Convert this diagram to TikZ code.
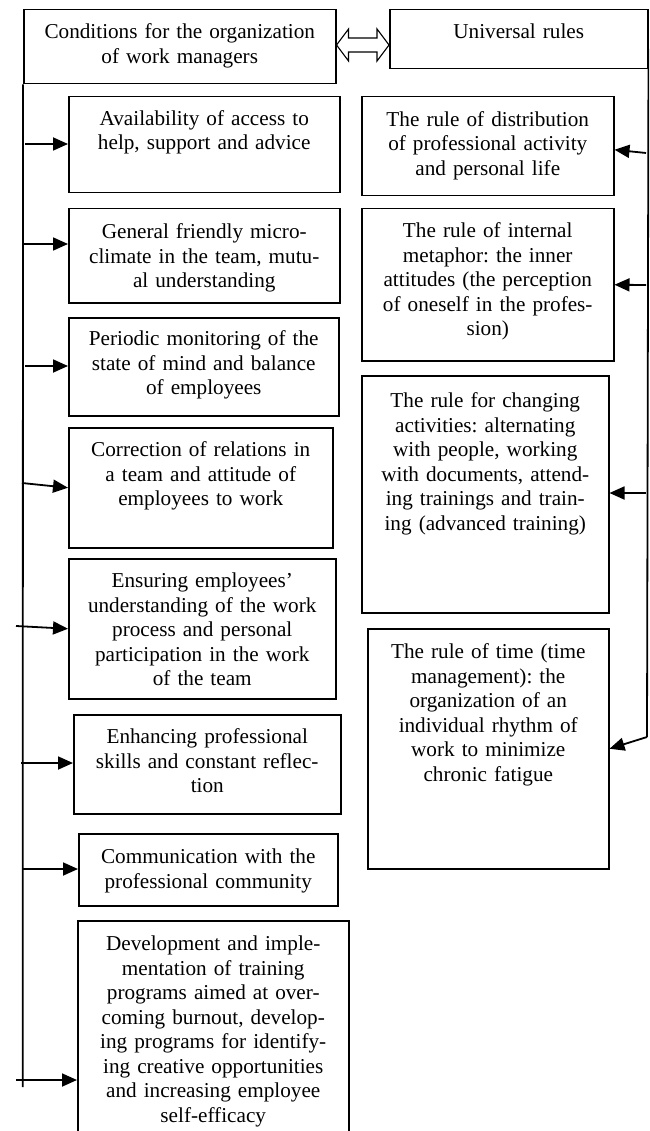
\documentclass[tikz,border=0pt]{standalone}
\usepackage{fontspec}
\setmainfont{Liberation Serif}
\usetikzlibrary{arrows.meta,calc}
\newcommand\boxfont{\fontsize{21.2}{24.5}\selectfont\frenchspacing}
\begin{document}
\begin{tikzpicture}[x=1pt,y=-1pt,
  box/.style={draw, line width=1.5pt, anchor=north west, inner xsep=2pt,
              inner ysep=0pt, align=center, font=\boxfont},
  bus/.style={line width=1.8pt},
  conn/.style={line width=1.8pt, -{Triangle[length=15pt,width=13pt]}},
  link/.style={draw, line width=1.1pt, fill=white, line join=miter}]
\fill[white] (0,0) rectangle (649,1131);
\clip (0,0) rectangle (649,1131);

% headings
\node[box, text width=308pt, text height=29pt, text depth=45pt] (cond) at (23,9)
  {Conditions for the organization\\of work managers};
\node[box, text width=254pt, text height=29pt, text depth=30pt] (univ) at (389,9)
  {Universal rules};

% two-way link between the headings
\coordinate (dl) at (cond.east |- 0,45);
\coordinate (dr) at (univ.west |- 0,45);
\path[link] (dl) -- ($(dl)+(12,-16)$) -- ($(dl)+(12,-7)$) -- ($(dr)+(-12,-7)$)
  -- ($(dr)+(-12,-16)$) -- (dr) -- ($(dr)+(-12,16)$) -- ($(dr)+(-12,7)$)
  -- ($(dl)+(12,7)$) -- ($(dl)+(12,16)$) -- cycle;

% conditions (left column)
\node[box, text width=267pt, text height=28.5pt, text depth=67.5pt] (avail) at (68,96)
  {Availability of access to\\help, support and advice};
\node[box, text width=267pt, text height=30pt, text depth=64pt] (gen) at (68,208)
  {General friendly micro-\\climate in the team, mutu-\\al understanding};
\node[box, text width=266pt, text height=28pt, text depth=70pt] (per) at (68,317)
  {Periodic monitoring of the\\state of mind and balance\\of employees};
\node[box, text width=260pt, text height=29pt, text depth=91pt] (corr) at (68,427)
  {Correction of relations in\\a team and attitude of\\employees to work};
\node[box, text width=263pt, text height=29pt, text depth=111pt] (ens) at (68,558)
  {Ensuring employees'\\understanding of the work\\process and personal\\participation in the work\\of the team};
\node[box, text width=263pt, text height=29pt, text depth=70pt] (enh) at (73,714)
  {Enhancing professional\\skills and constant reflec-\\tion};
\node[box, text width=255pt, text height=30pt, text depth=42pt] (comm) at (78,833)
  {Communication with the\\professional community};
\node[box, text width=267pt, text height=30pt, text depth=195pt] (dev) at (77,920)
  {Development and imple-\\mentation of training\\programs aimed at over-\\coming burnout, develop-\\ing programs for identify-\\ing creative opportunities\\and increasing employee\\self-efficacy};

% rules (right column)
\node[box, text width=248pt, text height=29.5pt, text depth=69.5pt] (dist) at (361,96)
  {The rule of distribution\\of professional activity\\and personal life};
\node[box, text width=248pt, text height=29pt, text depth=123pt] (meta) at (361,208)
  {The rule of internal\\metaphor: the inner\\attitudes (the perception\\of oneself in the profes-\\sion)};
\node[box, text width=243pt, text height=32pt, text depth=205pt] (chg) at (361,375)
  {The rule for changing\\activities: alternating\\with people, working\\with documents, attend-\\ing trainings and train-\\ing (advanced training)};
\node[box, text width=237pt, text height=30pt, text depth=210pt] (time) at (367,628)
  {The rule of time (time\\management): the\\organization of an\\individual rhythm of\\work to minimize\\chronic fatigue};

% left bus and its branches
\coordinate (lbot) at (22.7,1087);
\draw[bus] (cond.south west) -- (lbot);
\coordinate (l1) at (25,144);
\coordinate (l2) at (22,244);
\coordinate (l3) at (25,366);
\coordinate (l4) at (22,483);
\coordinate (l5) at (16,626);
\coordinate (l6) at (21,763);
\coordinate (l7) at (22,869);
\coordinate (l8) at (16,1080);
\draw[conn] (l1) -- (l1 -| avail.west);
\draw[conn] (l2) -- (l2 -| gen.west);
\draw[conn] (l3) -- (l3 -| per.west);
\draw[conn] (l4) -- (corr.west);
\draw[conn] (l5) -- (ens.west);
\draw[conn] (l6) -- (l6 -| enh.west);
\draw[conn] (l7) -- (l7 -| comm.west);
\draw[conn] (l8) -- (l8 -| dev.west);

% right bus and its branches
\coordinate (rtop) at ($(univ.north east)+(0,40)$);
\coordinate (rbot) at (647,737);
\draw[bus] (rtop) -- (rbot);
\coordinate (r1) at (646,153);
\coordinate (r2) at (646,285);
\coordinate (r3) at (646,493);
\draw[conn] (r1) -- ($(dist.east)+(0,3.5)$);
\draw[conn] (r2) -- (meta.east);
\draw[conn] (r3) -- (r3 -| chg.east);
\draw[conn] (rbot) -- (time.east);
\end{tikzpicture}
\end{document}
